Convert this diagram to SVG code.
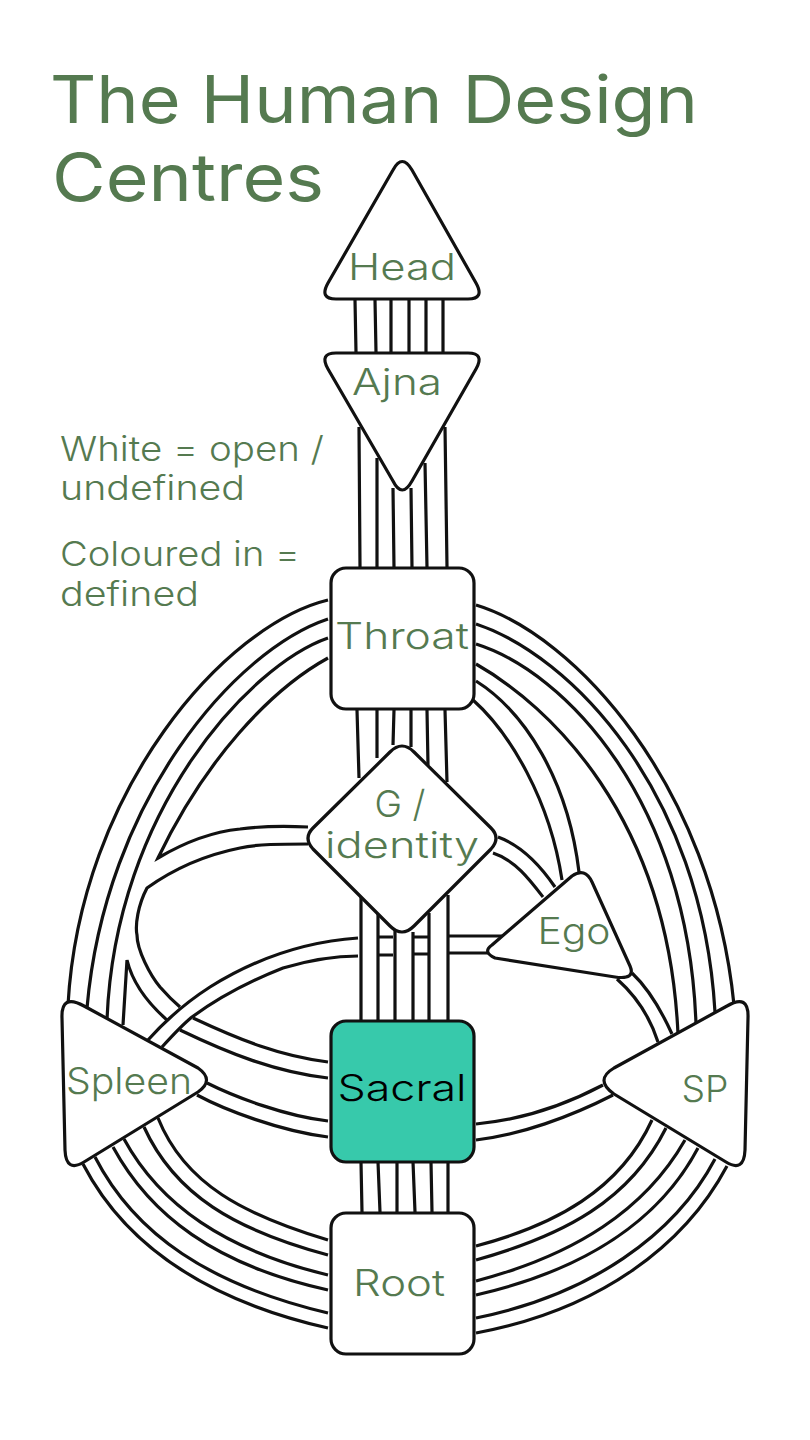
<svg xmlns="http://www.w3.org/2000/svg" width="810" height="1440" viewBox="0 0 810 1440">
<style>
.l{fill:none;stroke:#111;stroke-width:3.2;stroke-linecap:butt}
.n{fill:#fff;stroke:#111;stroke-width:3.2;stroke-linejoin:round}
text{font-family:"Inter","Liberation Sans",sans-serif;fill:#557a50;font-weight:400}
.c{font-size:37px;text-anchor:middle;font-weight:350}
.t{font-size:66px}
.k{font-size:34px;font-weight:350}
</style>
<rect width="810" height="1440" fill="#fff"/>
<text class="t" x="50" y="123" textLength="648" lengthAdjust="spacingAndGlyphs">The Human Design</text>
<text class="t" x="52" y="201" textLength="272" lengthAdjust="spacingAndGlyphs">Centres</text>
<text class="k" x="60" y="461" textLength="264" lengthAdjust="spacingAndGlyphs">White = open /</text>
<text class="k" x="60" y="500" textLength="185" lengthAdjust="spacingAndGlyphs">undefined</text>
<text class="k" x="60" y="566" textLength="240" lengthAdjust="spacingAndGlyphs">Coloured in =</text>
<text class="k" x="60" y="606" textLength="139" lengthAdjust="spacingAndGlyphs">defined</text>
<g id="connectors">
<path class="l" d="M355,300L356,352M375,300L376,352M391,300L391,352M409,300L409,352M426,300L426,352M443,300L443,352"/>
<path class="l" d="M359,427L360,567M377,458L377,567M393,488L394,567M411,488L412,567M425,463L427,567M445,427L447,567"/>
<path class="l" d="M357,710L359,778M377,710L377,758M394,710L393,745M411,710L411,747M427,710L428,765M445,710L447,782"/>
<path class="l" d="M361,897L361,1020M378,913L378,1020M395,930L395,1020M413,932L413,1020M429,913L429,1020M448,895L448,1020"/>
<path class="l" d="M361,1162L362,1212M378,1162L380,1212M397,1162L397,1212M413,1162L415,1212M431,1162L432,1212M448,1162L448,1212"/>
<path class="l" d="M328,600C225,625 80,790 68,1005"/>
<path class="l" d="M328,619C235,650 105,800 87,1008"/>
<path class="l" d="M328,638C250,665 115,810 107,1020"/>
<path class="l" d="M328,658C270,690 205,760 158,858C180,845 210,832 240,829C262,826 285,826 308,827"/>
<path class="l" d="M308,844C280,844 258,844 240,848C205,855 175,868 147,888C138,905 135,925 137,935C137,950 150,975 160,987C167,995 173,1001 180,1007"/>
<path class="l" d="M193,1018C240,1040 280,1056 328,1062"/>
<path class="l" d="M123,1025L127,960C133,985 150,1005 167,1020"/>
<path class="l" d="M180,1030C228,1053 275,1072 328,1078"/>
<path class="l" d="M148,1040C165,1021 185,1003 210,987C250,962 300,942 358,938"/>
<path class="l" d="M162,1047C172,1036 182,1025 192,1017C222,995 250,981 283,968C310,960 335,956 358,956"/>
<path class="l" d="M378,937L393,937M378,955L393,955M413,937L428,937M413,954L428,954M448,936L502,936M448,953L488,953"/>
<path class="l" d="M476,605C575,635 712,785 734,1005"/>
<path class="l" d="M476,624C570,655 702,790 715,1012"/>
<path class="l" d="M476,644C565,672 688,800 696,1024"/>
<path class="l" d="M476,664C548,705 668,815 678,1034"/>
<path class="l" d="M476,681C525,712 568,780 579,872"/>
<path class="l" d="M473,700C510,733 550,800 562,880"/>
<path class="l" d="M498,837C520,845 540,865 555,887"/>
<path class="l" d="M493,853C515,860 530,880 543,897"/>
<path class="l" d="M632,973C650,990 662,1012 672,1034"/>
<path class="l" d="M617,979C635,995 650,1017 658,1042"/>
<path class="l" d="M207,1083C235,1097 285,1116 328,1121"/>
<path class="l" d="M197,1095C225,1110 280,1131 328,1137"/>
<path class="l" d="M476,1124C520,1120 565,1105 603,1085"/>
<path class="l" d="M476,1140C520,1135 570,1117 613,1095"/>
<path class="l" d="M158,1118C185,1185 245,1215 328,1240"/>
<path class="l" d="M144,1127C175,1195 235,1230 328,1255"/>
<path class="l" d="M124,1139C160,1205 225,1250 328,1275"/>
<path class="l" d="M113,1147C150,1215 215,1265 328,1290"/>
<path class="l" d="M95,1157C135,1235 210,1285 328,1313"/>
<path class="l" d="M83,1164C125,1245 205,1300 328,1328"/>
<path class="l" d="M652,1120C620,1190 555,1225 476,1246"/>
<path class="l" d="M666,1128C630,1200 565,1235 476,1260"/>
<path class="l" d="M685,1140C645,1210 575,1255 476,1281"/>
<path class="l" d="M698,1148C660,1220 585,1270 476,1295"/>
<path class="l" d="M715,1159C675,1235 590,1295 476,1318"/>
<path class="l" d="M727,1166C685,1245 600,1310 476,1333"/>
</g>
<g id="head"><path class="n" d="M393,170Q402,153 412,170L476,283Q485,299 468,299L336,299Q319,299 328,283Z"/><text class="c" x="402" y="280" textLength="108" lengthAdjust="spacingAndGlyphs">Head</text></g>
<g id="ajna"><path class="n" d="M336,353L468,353Q485,353 476,369L412,481Q402,499 393,481L328,369Q319,353 336,353Z"/><text class="c" x="397" y="395" textLength="90" lengthAdjust="spacingAndGlyphs">Ajna</text></g>
<g id="throat"><rect class="n" x="331" y="568" width="143" height="141" rx="15"/><text class="c" x="402" y="649" textLength="134" lengthAdjust="spacingAndGlyphs">Throat</text></g>
<g id="g-identity"><path class="n" d="M390,752Q402,740 414,752L491,828Q501,838 491,849L414,926Q402,938 390,926L313,849Q303,838 313,828Z"/><text class="c" x="400" y="817">G /</text><text class="c" x="402" y="858" textLength="154" lengthAdjust="spacingAndGlyphs">identity</text></g>
<g id="ego"><path class="n" d="M572,876Q585,867 592,882L630,966Q636,980 615,977L495,958Q482,952 492,945Z"/><text class="c" x="574" y="944" textLength="73" lengthAdjust="spacingAndGlyphs">Ego</text></g>
<g id="spleen"><path class="n" d="M62,1018Q61,993 84,1006L198,1068Q215,1080 198,1092L84,1162Q66,1173 65,1150Z"/><text class="c" x="129" y="1094" textLength="126" lengthAdjust="spacingAndGlyphs">Spleen</text></g>
<g id="sp"><path class="n" d="M727,1006Q749,993 748,1018L745,1150Q744,1173 726,1162L614,1094Q594,1080 614,1068Z"/><text class="c" x="705" y="1102" textLength="47" lengthAdjust="spacingAndGlyphs">SP</text></g>
<g id="sacral"><rect class="n" x="331" y="1021" width="143" height="141" rx="15" style="fill:#37c9ab"/><text class="c" x="402" y="1101" textLength="129" lengthAdjust="spacingAndGlyphs" style="fill:#000">Sacral</text></g>
<g id="root"><rect class="n" x="331" y="1213" width="143" height="141" rx="15"/><text class="c" x="399" y="1296" textLength="92" lengthAdjust="spacingAndGlyphs">Root</text></g>
</svg>
